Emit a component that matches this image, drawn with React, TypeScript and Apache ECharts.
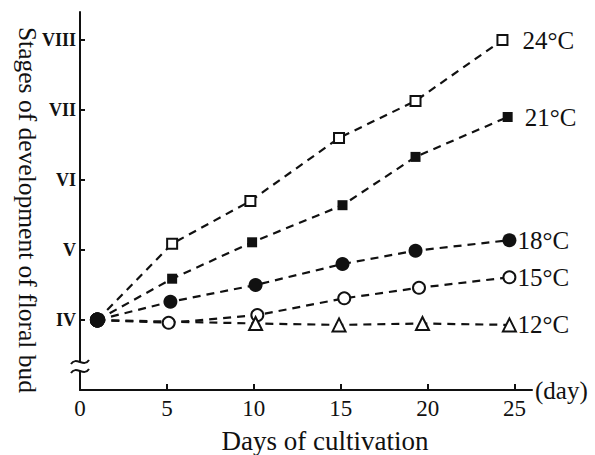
import React, { useEffect, useRef } from "react";
import * as echarts from "echarts";

const seriesNames = ["24°C", "21°C", "18°C", "15°C", "12°C"];
const days24 = [1, 5.3, 9.8, 14.9, 19.3, 24.3];
const stage24 = [4, 5.09, 5.7, 6.6, 7.13, 8.0];
const days21 = [1, 5.3, 9.9, 15.1, 19.3, 24.6];
const stage21 = [4, 4.59, 5.11, 5.64, 6.33, 6.9];
const days18 = [1, 5.2, 10.1, 15.1, 19.3, 24.7];
const stage18 = [4, 4.26, 4.5, 4.8, 4.99, 5.14];
const days15 = [1, 5.1, 10.2, 15.2, 19.5, 24.7];
const stage15 = [4, 3.96, 4.07, 4.31, 4.46, 4.61];
const days12 = [1, 10.1, 14.9, 19.7, 24.7];
const stage12 = [4, 3.95, 3.93, 3.95, 3.93];

const xTicks = [0, 5, 10, 15, 20, 25];
const yTicks = [4, 5, 6, 7, 8];
const romanLabels = ["IV", "V", "VI", "VII", "VIII"];

const FONT = "Liberation Serif";

export default function App() {
  const ref = useRef<HTMLDivElement>(null);
  useEffect(() => {
    document.body.style.margin = "0";
    if (!ref.current) return;
    const chart = echarts.init(ref.current, null, { renderer: "svg" });

    const mk = (
      name: string,
      xs: number[],
      ys: number[],
      symbol: string,
      size: number,
      filled: boolean,
      labelDist: number
    ) => ({
      name,
      type: "line",
      data: xs.map((x, i) =>
        i === 0
          ? {
              value: [x, ys[i]],
              symbol: "circle",
              symbolSize: 15,
              itemStyle: { color: "#111", borderColor: "#111", borderWidth: 0 },
            }
          : { value: [x, ys[i]] }
      ),
      symbol,
      symbolSize: size,
      showAllSymbol: true,
      lineStyle: { color: "#111", width: 2.2, type: [8, 6] },
      itemStyle: {
        color: filled ? "#111" : "#fff",
        borderColor: "#111",
        borderWidth: filled ? 0 : 2,
      },
      endLabel: {
        show: true,
        formatter: "{a}",
        distance: labelDist,
        color: "#111",
        fontFamily: FONT,
        fontSize: 25,
      },
      z: 3,
    });

    chart.setOption({
      animation: false,
      backgroundColor: "#fff",
      grid: { left: 80, top: 12, right: 63, bottom: 65, containLabel: false, outerBoundsMode: "none" },
      xAxis: {
        type: "value",
        min: 0,
        max: 26,
        name: "(day)",
        nameLocation: "end",
        nameGap: 3,
        nameTextStyle: { fontFamily: FONT, fontSize: 25, color: "#111", verticalAlign: "middle" },
        splitLine: { show: false },
        axisLine: { onZero: false, lineStyle: { color: "#111", width: 2 } },
        axisTick: { inside: true, length: 6, lineStyle: { color: "#111", width: 2 }, customValues: xTicks },
        axisLabel: {
          customValues: xTicks,
          fontFamily: FONT,
          fontSize: 23,
          color: "#111",
          margin: 7,
        },
      },
      yAxis: {
        type: "value",
        min: 3,
        max: 8.4,
        splitLine: { show: false },
        axisLine: { lineStyle: { color: "#111", width: 2 } },
        axisTick: { inside: true, length: 5, lineStyle: { color: "#111", width: 2 }, customValues: yTicks },
        axisLabel: {
          customValues: yTicks,
          formatter: (v: number) => {
            const i = yTicks.indexOf(Math.round(v));
            return i >= 0 ? romanLabels[i] : "";
          },
          fontFamily: FONT,
          fontSize: 18,
          fontWeight: "bold",
          color: "#111",
          margin: 4,
        },
      },
      graphic: [
        {
          type: "text",
          x: 27,
          y: 210,
          rotation: -Math.PI / 2,
          style: {
            text: "Stages of development of floral bud",
            fontFamily: FONT,
            fontSize: 25.5,
            fill: "#111",
            align: "center",
            verticalAlign: "middle",
          },
        },
        {
          type: "text",
          x: 325,
          y: 441,
          style: {
            text: "Days of cultivation",
            fontFamily: FONT,
            fontSize: 27,
            fill: "#111",
            align: "center",
            verticalAlign: "middle",
          },
        },
        {
          type: "rect",
          shape: { x: 75, y: 362, width: 10, height: 9 },
          style: { fill: "#fff" },
          z: 100,
        },
        {
          type: "bezierCurve",
          shape: { x1: 71, y1: 364, cpx1: 76, cpy1: 356, cpx2: 84, cpy2: 368, x2: 89, y2: 360 },
          style: { stroke: "#111", lineWidth: 2, fill: null },
          z: 101,
        },
        {
          type: "bezierCurve",
          shape: { x1: 71, y1: 373, cpx1: 76, cpy1: 365, cpx2: 84, cpy2: 377, x2: 89, y2: 369 },
          style: { stroke: "#111", lineWidth: 2, fill: null },
          z: 101,
        },
      ],
      series: [
        mk(seriesNames[0], days24, stage24, "rect", 10, false, 20),
        mk(seriesNames[1], days21, stage21, "rect", 10, true, 17),
        mk(seriesNames[2], days18, stage18, "circle", 14, true, 8),
        mk(seriesNames[3], days15, stage15, "circle", 12, false, 8),
        mk(seriesNames[4], days12, stage12, "triangle", 13, false, 8),
      ],
    });
    return () => chart.dispose();
  }, []);
  return <div ref={ref} style={{ width: 595, height: 455 }} />;
}
